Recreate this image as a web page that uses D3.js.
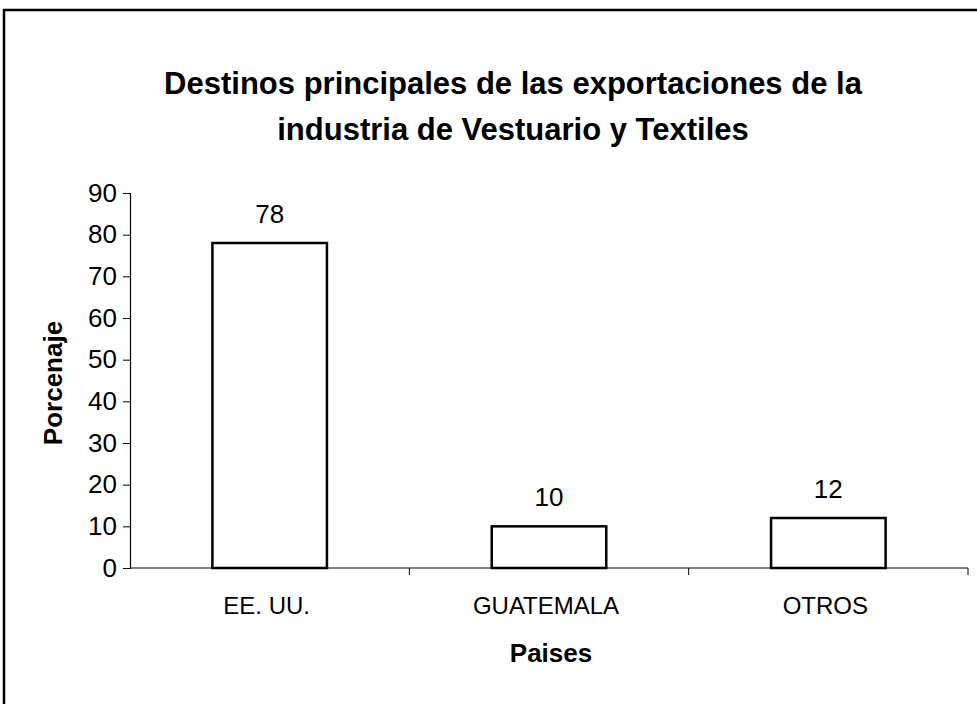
<!DOCTYPE html>
<html>
<head>
<meta charset="utf-8">
<script src="https://cdn.jsdelivr.net/npm/d3@7"></script>
<style>
  body { margin: 0; background: #fff; }
  text { font-family: "Liberation Sans", Arial, sans-serif; fill: #000; }
</style>
</head>
<body>
<div id="chart"></div>
<script>
// Data
var categories = ["EE. UU.", "GUATEMALA", "OTROS"]
var values = [78, 10, 12]
var yTicks = [0, 10, 20, 30, 40, 50, 60, 70, 80, 90]
var titleLines = ["Destinos principales de las exportaciones de la", "industria de Vestuario y Textiles"]

var width = 977
var height = 704
var plot = { left: 130, right: 968, top: 193, bottom: 568 }

var svg = d3.select("#chart")
  .append("svg")
  .attr("width", width)
  .attr("height", height)

// Outer chart frame (runs off the right and bottom of the picture)
svg.append("rect")
  .attr("x", 4)
  .attr("y", 10)
  .attr("width", width + 10)
  .attr("height", height + 10)
  .attr("fill", "none")
  .attr("stroke", "#000")
  .attr("stroke-width", 2.5)

// Title
svg.append("g")
  .selectAll("text")
  .data(titleLines)
  .enter()
  .append("text")
  .attr("x", 513)
  .attr("y", function(d, i) { return 94 + i * 46 })
  .attr("text-anchor", "middle")
  .style("font-size", "31px")
  .style("font-weight", "bold")
  .text(function(d) { return d })

// Scales
var x = d3.scaleBand()
  .domain(categories)
  .range([plot.left, plot.right])
  .paddingInner(0.59)
  .paddingOuter(0.295)

var xAxisScale = d3.scaleBand()
  .domain(categories)
  .range([plot.left, plot.right])

var y = d3.scaleLinear()
  .domain([0, 90])
  .range([plot.bottom, plot.top])

// Y axis
var yAxis = svg.append("g")
  .attr("transform", "translate(" + plot.left + ",0)")
  .call(d3.axisLeft(y).tickValues(yTicks).tickSize(7).tickPadding(6))
yAxis.select(".domain").attr("stroke", "#000").attr("stroke-width", 1.2)
yAxis.selectAll(".tick line").attr("stroke", "#000")
yAxis.selectAll(".tick text")
  .style("font-size", "26px")
  .style("font-family", "'Liberation Sans', Arial, sans-serif")
  .attr("fill", "#000")

// X axis: ticks sit between categories
var xAxis = svg.append("g")
  .attr("transform", "translate(0," + plot.bottom + ")")
xAxis.append("line")
  .attr("x1", plot.left)
  .attr("x2", plot.right)
  .attr("stroke", "#000")
  .attr("stroke-width", 1.2)
xAxis.selectAll(".sep")
  .data(categories)
  .enter()
  .append("line")
  .attr("class", "sep")
  .attr("x1", function(d) { return xAxisScale(d) + xAxisScale.bandwidth() })
  .attr("x2", function(d) { return xAxisScale(d) + xAxisScale.bandwidth() })
  .attr("y1", 0)
  .attr("y2", 7)
  .attr("stroke", "#000")
xAxis.selectAll(".cat")
  .data(categories)
  .enter()
  .append("text")
  .attr("class", "cat")
  .attr("x", function(d) { return xAxisScale(d) + xAxisScale.bandwidth() / 2 - 3 })
  .attr("y", 46)
  .attr("text-anchor", "middle")
  .style("font-size", "24px")
  .text(function(d) { return d })

// Bars
svg.selectAll(".bar")
  .data(values)
  .enter()
  .append("rect")
  .attr("class", "bar")
  .attr("x", function(d, i) { return x(categories[i]) })
  .attr("y", function(d) { return y(d) })
  .attr("width", x.bandwidth())
  .attr("height", function(d) { return y(0) - y(d) })
  .attr("fill", "#fff")
  .attr("stroke", "#000")
  .attr("stroke-width", 2.5)

// Value labels
svg.selectAll(".val")
  .data(values)
  .enter()
  .append("text")
  .attr("class", "val")
  .attr("x", function(d, i) { return x(categories[i]) + x.bandwidth() / 2 })
  .attr("y", function(d) { return y(d) - 20 })
  .attr("text-anchor", "middle")
  .style("font-size", "26px")
  .text(function(d) { return d })

// Axis titles
svg.append("text")
  .attr("x", 551)
  .attr("y", 662)
  .attr("text-anchor", "middle")
  .style("font-size", "26px")
  .style("font-weight", "bold")
  .text("Paises")

svg.append("text")
  .attr("transform", "translate(62,383) rotate(-90)")
  .attr("text-anchor", "middle")
  .style("font-size", "26px")
  .style("font-weight", "bold")
  .text("Porcenaje")
</script>
</body>
</html>
